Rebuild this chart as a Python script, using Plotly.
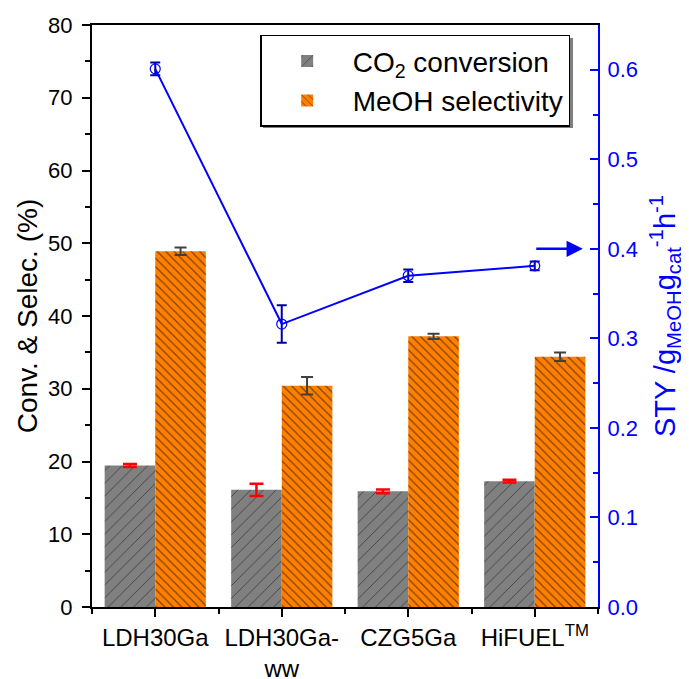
import plotly.graph_objects as go

categories = ["LDH30Ga", "LDH30Ga-<br>ww", "CZG5Ga", "HiFUEL<sup>TM</sup>"]
co2_conv = [19.45, 16.1, 15.9, 17.3]
co2_err = [0.2, 0.85, 0.25, 0.2]
meoh_sel = [48.9, 30.4, 37.2, 34.4]
meoh_err = [0.5, 1.2, 0.35, 0.6]
sty = [0.601, 0.316, 0.370, 0.381]
sty_err = [0.007, 0.021, 0.007, 0.005]

xs = list(range(len(categories)))
FONT = "Arial, Liberation Sans, sans-serif"

fig = go.Figure()
fig.add_trace(go.Bar(
    x=xs, y=co2_conv, name="CO<sub>2</sub> conversion",
    marker=dict(color="#808080", line=dict(width=0),
                pattern=dict(shape="/", fgcolor="black", size=9, solidity=0.1)),
    error_y=dict(type="data", array=co2_err, color="#FF0000", thickness=2.5, width=7),
))
fig.add_trace(go.Bar(
    x=xs, y=meoh_sel, name="MeOH selectivity",
    marker=dict(color="#FF8000", line=dict(width=0),
                pattern=dict(shape="\\", fgcolor="black", size=6, solidity=0.2)),
    error_y=dict(type="data", array=meoh_err, color="#404040", thickness=2, width=6),
))
fig.add_trace(go.Scatter(
    x=xs, y=sty, yaxis="y2", mode="lines+markers", showlegend=False,
    line=dict(color="#0000FF", width=2),
    marker=dict(symbol="circle-open", size=10, color="#0000FF", line=dict(width=1.2)),
    error_y=dict(type="data", array=sty_err, color="#0000A0", thickness=2, width=5),
))

fig.add_annotation(x=xs[-1] + 0.38, y=0.4, xref="x", yref="y2",
                   ax=xs[-1], ay=0.4, axref="x", ayref="y2",
                   showarrow=True, arrowhead=2, arrowsize=1.3, arrowwidth=2.5,
                   arrowcolor="#0000FF", text="")

# legend drop shadow
fig.add_shape(type="rect", xref="paper", yref="paper", layer="above",
              x0=0.3379, x1=0.9506, y0=0.823, y1=0.9777,
              fillcolor="#7f7f7f", line=dict(width=0))

fig.update_layout(
    width=681, height=671,
    margin=dict(l=84, r=91, t=17, b=72),
    plot_bgcolor="white", paper_bgcolor="white",
    font=dict(family=FONT, size=22, color="black"),
    barmode="group", bargap=0.2, bargroupgap=0,
    legend=dict(x=0.945, y=0.983, xanchor="right", yanchor="top",
                bordercolor="black", borderwidth=1.5, bgcolor="white",
                font=dict(size=28), itemwidth=81, tracegroupgap=0),
    xaxis=dict(range=[-0.5, len(categories) - 0.5], tickmode="array",
               tickvals=xs, ticktext=categories, automargin=False,
               showline=True, linecolor="black", linewidth=2, mirror=True,
               ticks="outside", ticklen=8, tickwidth=2, tickcolor="black",
               tickfont=dict(size=24), showgrid=False, zeroline=False,
               ticklabelstandoff=0,
               minor=dict(tick0=-0.5, dtick=1, ticks="outside", ticklen=5,
                          tickwidth=2, tickcolor="black")),
    yaxis=dict(range=[0, 80], dtick=10, showline=True, linecolor="black", linewidth=2,
               ticks="outside", ticklen=8, tickwidth=2, tickcolor="black", automargin=False,
               tickfont=dict(size=22), showgrid=False, zeroline=False,
               ticklabelstandoff=5,
               minor=dict(dtick=5, ticks="outside", ticklen=5, tickwidth=2,
                          tickcolor="black"),
               title=dict(text="Conv. & Selec. (%)", font=dict(size=28), standoff=2)),
    yaxis2=dict(range=[0, 0.65], dtick=0.1, tickformat=".1f", overlaying="y", side="right",
                showline=True, linecolor="#0000FF", linewidth=2, automargin=False,
                ticks="inside", ticklen=8, tickwidth=2, tickcolor="#0000FF",
                tickfont=dict(size=22, color="#0000FF"), showgrid=False, zeroline=False,
                ticklabelstandoff=3,
                minor=dict(dtick=0.05, ticks="inside", ticklen=5, tickwidth=2,
                           tickcolor="#0000FF"),
                title=dict(text="STY /g<sub>MeOH</sub>g<sub>cat</sub><sup>-1</sup>h<sup>-1</sup>",
                           font=dict(size=29, color="#0000FF"), standoff=18)),
)

fig.write_html("out.html")
